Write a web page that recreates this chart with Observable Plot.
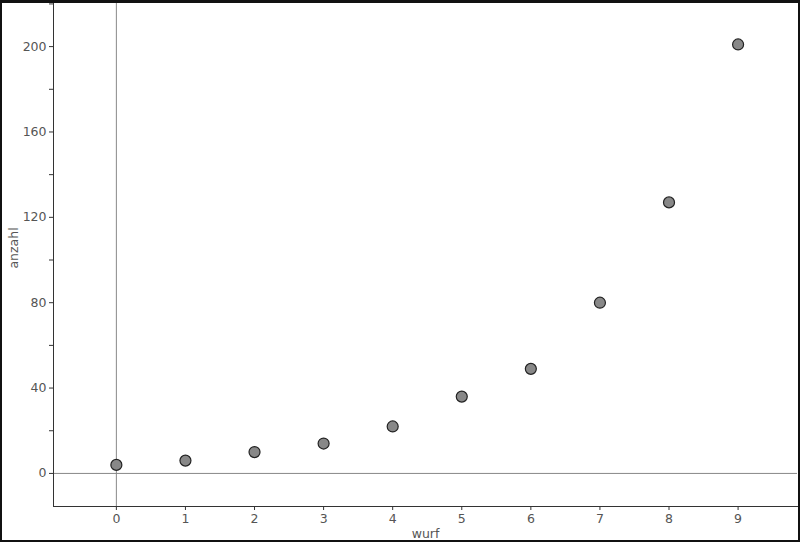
<!DOCTYPE html>
<html><head><meta charset="utf-8">
<script src="https://cdn.jsdelivr.net/npm/d3@7"></script>
<script src="https://cdn.jsdelivr.net/npm/@observablehq/plot@0.6"></script>
<style>
body{margin:0;background:#fff;}
#wrap{position:relative;width:800px;height:542px;overflow:hidden;}
#border{position:absolute;left:0;top:0;width:800px;height:542px;box-sizing:border-box;border:2px solid #111;border-top-width:3px;pointer-events:none;}
</style>
</head><body>
<div id="wrap"><div id="chart"></div><div id="border"></div></div>
<script>
const wurf = [0, 1, 2, 3, 4, 5, 6, 7, 8, 9];
const anzahl = [4, 6, 10, 14, 22, 36, 49, 80, 127, 201];
const xTicks = [0, 1, 2, 3, 4, 5, 6, 7, 8, 9];
const yMajor = [0, 40, 80, 120, 160, 200];
const yMinor = [20, 60, 100, 140, 180, 220];

const data = wurf.map((w, i) => ({wurf: w, anzahl: anzahl[i]}));

const chart = Plot.plot({
  width: 800, height: 542,
  marginLeft: 53, marginRight: 3, marginTop: 3, marginBottom: 36,
  style: {fontFamily: "DejaVu Sans, Verdana, sans-serif", fontSize: "12.5px", color: "#555", background: "#fff"},
  x: {domain: [-0.91, 9.86]},
  y: {domain: [-15.5, 220.2]},
  marks: [
    Plot.ruleX([0], {stroke: "#888", strokeWidth: 1}),
    Plot.ruleY([0], {stroke: "#888", strokeWidth: 1}),
    Plot.axisX({ticks: xTicks, tickSize: 4, tickPadding: 4, stroke: "#333", fill: "#555", label: null}),
    Plot.axisY({ticks: yMajor, tickSize: 4, tickPadding: 3, stroke: "#333", fill: "#555", label: null}),
    Plot.axisY({ticks: yMinor, tickSize: 4, tickFormat: () => "", stroke: "#333", label: null}),
    Plot.frame({anchor: "left", stroke: "#333"}),
    Plot.frame({anchor: "bottom", stroke: "#333"}),
    Plot.text(["wurf"], {frameAnchor: "bottom", textAnchor: "middle", lineAnchor: "middle", dy: 27, fill: "#555", fontSize: 12.5}),
    Plot.text(["anzahl"], {frameAnchor: "left", textAnchor: "middle", lineAnchor: "middle", dx: -40, dy: -7, rotate: -90, fill: "#555", fontSize: 12.5}),
    Plot.dot(data, {x: "wurf", y: "anzahl", r: 5.5, fill: "#888", stroke: "#222", strokeWidth: 1.2})
  ]
});
document.getElementById("chart").appendChild(chart);
</script>
</body></html>
